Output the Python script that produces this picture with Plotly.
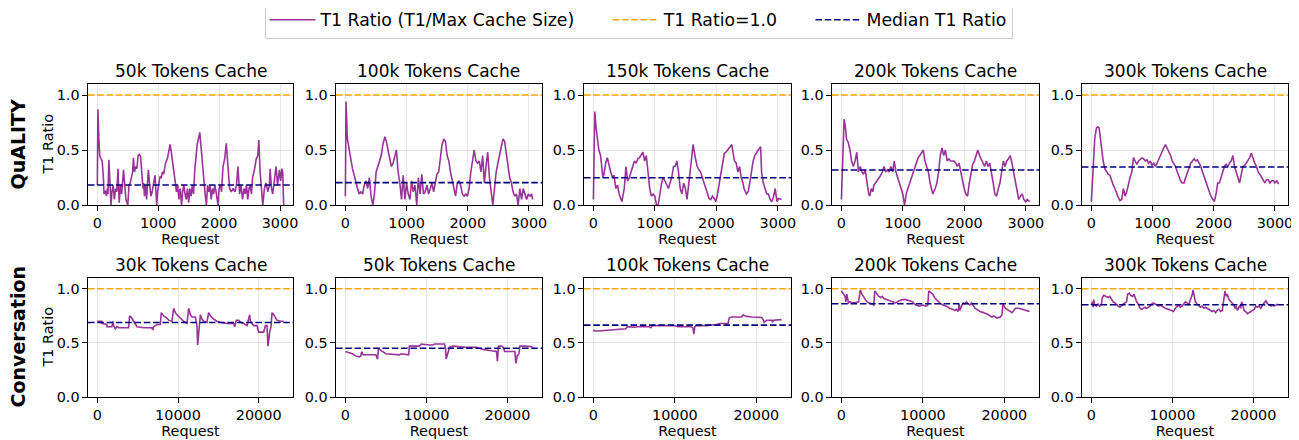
import plotly.graph_objects as go

FONT = "DejaVu Sans"

# ---------------- data ----------------
q50_x = [0, 10, 25, 40, 60, 80, 100, 110, 130, 150,
         165, 175, 190, 205, 215, 225, 240, 260, 280, 300,
         320, 340, 350, 360, 380, 400, 430, 450, 470, 500,
         520, 540, 560, 580, 593, 610, 630, 650, 670, 690,
         710, 730, 750, 760, 775, 790, 810, 825, 838, 860,
         880, 900, 920, 947, 960, 975, 990, 1010, 1030, 1050,
         1070, 1090, 1120, 1150, 1175, 1195, 1215, 1235, 1260, 1280,
         1300, 1320, 1340, 1360, 1383, 1400, 1420, 1440, 1460, 1480,
         1500, 1520, 1540, 1560, 1580, 1600, 1620, 1640, 1660, 1682,
         1700, 1720, 1748, 1770, 1791, 1810, 1830, 1850, 1870, 1890,
         1910, 1930, 1950, 1965, 1982, 2000, 2020, 2040, 2064, 2091,
         2118, 2145, 2173, 2200, 2230, 2260, 2285, 2309, 2336, 2360,
         2385, 2410, 2430, 2450, 2470, 2490, 2510, 2530, 2550, 2580,
         2610, 2635, 2652, 2673, 2690, 2717, 2744, 2770, 2800, 2826,
         2837, 2860, 2880, 2900, 2920, 2935, 2960, 2990, 3010, 3030,
         3044, 3060]
q50_y = [.18, .87, .60, .45, .42, .40, .25, .10, .13, .08,
         .15, .10, .41, .15, .08, .00, .12, .18, .05, .15,
         .12, .33, .15, .02, .18, .10, .32, .15, .05, .00,
         .18, .20, .26, .30, .43, .30, .35, .33, .45, .46,
         .44, .30, .15, .20, .08, .18, .05, .20, .32, .18,
         .08, .12, .20, .27, .15, .00, .12, .22, .26, .25,
         .30, .28, .38, .42, .50, .55, .48, .40, .28, .20,
         .12, .18, .05, .15, .00, .12, .18, .10, .05, .15,
         .02, .15, .08, .18, .10, .32, .45, .55, .60, .66,
         .55, .40, .20, .10, .00, .18, .12, .18, .05, .15,
         .10, .18, .12, .05, .00, .15, .18, .12, .35, .42,
         .56, .35, .15, .12, .15, .12, .18, .35, .10, .18,
         .05, .15, .10, .18, .05, .15, .18, .10, .25, .32,
         .42, .45, .59, .30, .15, .00, .15, .20, .12, .18,
         .33, .15, .10, .20, .30, .35, .18, .32, .22, .33,
         .30, .00]

q100_x = [0, 11, 33, 61, 88, 116, 144, 171, 199, 227,
          254, 282, 309, 337, 365, 392, 420, 448, 475, 503,
          530, 558, 586, 613, 646, 669, 696, 724, 751, 779,
          807, 834, 862, 890, 917, 945, 972, 1000, 1028, 1055,
          1083, 1110, 1138, 1166, 1193, 1221, 1249, 1276, 1304, 1332,
          1360, 1387, 1415, 1442, 1470, 1497, 1525, 1553, 1580, 1608,
          1635, 1663, 1691, 1718, 1746, 1774, 1801, 1829, 1856, 1884,
          1912, 1939, 1967, 1995, 2022, 2050, 2077, 2105, 2133, 2160,
          2188, 2216, 2243, 2271, 2298, 2326, 2354, 2381, 2409, 2437,
          2464, 2492, 2519, 2547, 2575, 2602, 2630, 2658, 2685, 2713,
          2740, 2768, 2796, 2823, 2851, 2879, 2906, 2934, 2961, 2989,
          3017, 3044, 3060]
q100_y = [.08, .94, .60, .50, .40, .33, .27, .20, .15, .10,
          .12, .10, .18, .22, .15, .25, .08, .00, .10, .30,
          .35, .40, .45, .55, .62, .58, .50, .40, .35, .38,
          .45, .50, .30, .20, .05, .27, .05, .20, .10, .05,
          .22, .12, .18, .00, .25, .10, .28, .10, .12, .18,
          .10, .15, .20, .12, .22, .28, .30, .45, .55, .60,
          .58, .45, .40, .30, .22, .15, .08, .20, .22, .18,
          .10, .08, .10, .08, .15, .30, .40, .50, .40, .38,
          .40, .30, .45, .20, .35, .48, .25, .10, .00, .15,
          .30, .38, .45, .55, .60, .58, .45, .35, .25, .20,
          .12, .08, .10, .00, .15, .05, .15, .10, .05, .10,
          .08, .10, .05]

q150_x = [0, 22, 44, 66, 88, 116, 132, 154, 171, 199,
          226, 254, 281, 309, 336, 364, 392, 419, 447, 463,
          502, 529, 557, 585, 612, 640, 667, 695, 722, 750,
          778, 805, 833, 860, 888, 915, 943, 971, 998, 1026,
          1053, 1081, 1109, 1136, 1164, 1191, 1219, 1246, 1274, 1302,
          1329, 1357, 1384, 1412, 1439, 1467, 1495, 1522, 1550, 1577,
          1605, 1621, 1660, 1688, 1715, 1743, 1770, 1798, 1825, 1853,
          1881, 1908, 1936, 1963, 1991, 2018, 2046, 2074, 2101, 2129,
          2156, 2184, 2211, 2250, 2278, 2294, 2322, 2349, 2377, 2404,
          2432, 2449, 2487, 2515, 2542, 2570, 2598, 2625, 2650, 2680,
          2719, 2735, 2763, 2791, 2818, 2846, 2873, 2901, 2930, 2956,
          2984, 3010, 3039, 3060]
q150_y = [.05, .85, .70, .60, .50, .45, .35, .25, .28, .38,
          .43, .35, .30, .25, .27, .15, .18, .10, .05, .03,
          .15, .35, .22, .25, .30, .35, .40, .38, .42, .43,
          .45, .48, .40, .45, .30, .15, .08, .10, .08, .00,
          .00, .10, .20, .25, .22, .18, .15, .20, .25, .35,
          .35, .40, .30, .15, .10, .20, .15, .05, .20, .30,
          .45, .55, .42, .35, .32, .30, .25, .20, .15, .10,
          .06, .05, .08, .06, .03, .10, .20, .30, .40, .47,
          .48, .50, .52, .55, .45, .40, .38, .30, .35, .25,
          .20, .15, .10, .12, .20, .30, .40, .45, .48, .50,
          .53, .30, .20, .15, .10, .10, .05, .03, .08, .15,
          .03, .06, .05, .05]

q200_x = [0, 44, 67, 83, 111, 139, 166, 194, 222, 250,
          277, 305, 333, 360, 388, 416, 444, 460, 488, 510,
          527, 555, 582, 610, 638, 665, 693, 721, 749, 776,
          804, 832, 859, 887, 915, 943, 970, 998, 1026, 1054,
          1081, 1109, 1137, 1164, 1192, 1220, 1248, 1275, 1303, 1331,
          1358, 1386, 1414, 1442, 1469, 1486, 1525, 1553, 1580, 1608,
          1636, 1664, 1691, 1719, 1747, 1774, 1802, 1830, 1858, 1885,
          1913, 1941, 1968, 1996, 2024, 2052, 2079, 2107, 2135, 2163,
          2190, 2218, 2246, 2273, 2301, 2329, 2357, 2384, 2412, 2440,
          2468, 2495, 2523, 2551, 2578, 2606, 2634, 2662, 2689, 2717,
          2745, 2773, 2800, 2828, 2856, 2883, 2911, 2939, 2967, 2994,
          3022, 3045, 3060]
q200_y = [.05, .78, .70, .60, .57, .50, .40, .35, .40, .48,
          .30, .35, .30, .28, .32, .20, .10, .08, .15, .12,
          .18, .20, .22, .25, .27, .30, .35, .30, .32, .30,
          .35, .30, .40, .30, .25, .20, .15, .10, .00, .10,
          .15, .20, .25, .30, .35, .38, .43, .45, .48, .50,
          .40, .35, .30, .20, .15, .10, .15, .20, .30, .45,
          .52, .45, .50, .40, .42, .40, .40, .40, .38, .35,
          .38, .30, .20, .15, .10, .08, .20, .30, .37, .40,
          .45, .50, .45, .42, .38, .35, .40, .35, .38, .30,
          .20, .10, .08, .15, .20, .30, .40, .35, .40, .42,
          .45, .38, .30, .20, .10, .05, .08, .10, .05, .03,
          .05, .04, .03]

q300_x = [0, 28, 55, 83, 100, 127, 138, 165, 193, 220,
          248, 275, 303, 330, 358, 385, 413, 440, 468, 495,
          523, 551, 578, 606, 633, 661, 688, 716, 743, 771,
          798, 826, 853, 881, 908, 936, 963, 991, 1018, 1046,
          1073, 1101, 1129, 1156, 1184, 1211, 1239, 1266, 1294, 1321,
          1349, 1376, 1404, 1431, 1459, 1486, 1514, 1541, 1569, 1596,
          1624, 1652, 1679, 1707, 1734, 1762, 1789, 1817, 1844, 1872,
          1899, 1927, 1954, 1982, 2009, 2037, 2064, 2092, 2119, 2147,
          2174, 2202, 2229, 2257, 2285, 2312, 2340, 2367, 2395, 2422,
          2450, 2477, 2505, 2532, 2560, 2587, 2615, 2642, 2670, 2697,
          2725, 2752, 2780, 2807, 2835, 2862, 2890, 2917, 2945, 2975,
          3000, 3030, 3060]
q300_y = [.03, .40, .60, .70, .71, .70, .65, .50, .40, .33,
          .30, .28, .27, .22, .18, .15, .10, .07, .04, .05,
          .15, .08, .12, .20, .25, .30, .43, .40, .37, .40,
          .42, .43, .42, .40, .41, .38, .40, .36, .38, .35,
          .38, .42, .45, .48, .52, .55, .52, .48, .45, .40,
          .38, .35, .30, .25, .22, .20, .20, .25, .30, .35,
          .38, .40, .42, .40, .41, .38, .35, .30, .25, .20,
          .15, .12, .08, .05, .03, .10, .20, .20, .25, .30,
          .35, .37, .35, .38, .40, .45, .35, .30, .25, .20,
          .28, .35, .36, .38, .40, .43, .47, .42, .38, .35,
          .30, .28, .25, .22, .20, .23, .23, .20, .22, .22,
          .20, .22, .19]

c30_x = [0, 570, 580, 1190, 1200, 1810, 1940, 2020, 2230, 2440,
         2640, 3880, 4000, 4300, 4500, 4710, 4920, 5740, 6770, 6860,
         6980, 7190, 7400, 7810, 7930, 8220, 8640, 8840, 9250, 9460,
         9670, 9880, 10290, 10500, 10700, 11110, 11320, 11530, 11740, 12150,
         12350, 12440, 12560, 12770, 12970, 13180, 13590, 13800, 14010, 14420,
         14830, 15250, 16070, 16900, 17020, 17230, 17520, 17730, 18140, 18550,
         18880, 18970, 19380, 19790, 20000, 20620, 20830, 21030, 21160, 21360,
         21530, 21650, 21860, 22070, 22270, 22690, 23100]
c30_y = [.70, .70, .68, .67, .65, .65, .70, .66, .63, .65,
         .64, .64, .75, .73, .70, .68, .65, .64, .64, .62,
         .65, .66, .67, .67, .78, .75, .73, .71, .70, .82,
         .78, .76, .73, .72, .70, .68, .82, .76, .74, .74,
         .66, .48, .60, .76, .72, .70, .69, .78, .75, .72,
         .70, .69, .68, .68, .65, .71, .71, .69, .68, .66,
         .76, .70, .66, .66, .60, .60, .66, .66, .47, .60,
         .65, .78, .76, .74, .71, .70, .70]

c50_x = [0, 455, 868, 1281, 1694, 1901, 2025, 2190, 2521, 3760,
         3967, 4091, 4380, 4793, 5000, 6653, 6859, 7809, 7892, 8305,
         9132, 9338, 9958, 10371, 10785, 10991, 12231, 12355, 12437, 12644,
         12768, 12851, 13264, 14090, 14917, 16156, 16569, 16983, 17809, 18429,
         18636, 18759, 18883, 19255, 19462, 19668, 20495, 20908, 21032, 21197,
         21404, 21528, 22148, 22561, 23100]
c50_y = [.42, .41, .40, .38, .37, .38, .42, .39, .39, .39,
         .35, .45, .43, .41, .40, .39, .40, .39, .47, .47,
         .47, .49, .48, .48, .48, .49, .49, .45, .35, .42,
         .44, .46, .47, .465, .46, .46, .45, .44, .43, .42,
         .42, .33, .47, .47, .46, .42, .42, .42, .31, .38,
         .40, .47, .47, .47, .465]

c100_x = [0, 165, 660, 1897, 2928, 3959, 4165, 4990, 5402, 6021,
          6846, 7052, 7258, 7671, 8083, 9320, 9939, 10351, 11176, 12001,
          12207, 12331, 12454, 12619, 13857, 14681, 15094, 15506, 15919, 16331,
          16537, 16661, 16950, 18187, 18393, 18599, 18805, 19424, 19630, 20043,
          20661, 20867, 20950, 21280, 21898, 21981, 22105, 23100]
c100_y = [.62, .61, .61, .615, .62, .63, .65, .645, .65, .65,
          .65, .64, .66, .66, .66, .66, .66, .65, .65, .65,
          .64, .58, .65, .66, .66, .665, .67, .68, .68, .68,
          .68, .73, .74, .74, .76, .75, .745, .74, .74, .74,
          .735, .71, .69, .71, .71, .69, .71, .715]

c200_x = [0, 248, 455, 538, 662, 869, 1076, 1283, 1697, 2111,
          2318, 2525, 2732, 2939, 3146, 3353, 3767, 3974, 4099, 4388,
          4595, 4802, 5009, 5216, 5630, 5837, 6251, 6665, 7079, 7493,
          7907, 8321, 8735, 8942, 9149, 9563, 9977, 10391, 10598, 10723,
          10888, 11219, 11426, 11633, 11840, 12047, 12254, 12461, 12875, 13289,
          13703, 13910, 14117, 14324, 14449, 14531, 14738, 14945, 15152, 15359,
          15566, 15773, 15980, 16187, 16394, 16601, 16808, 17015, 17429, 17843,
          18050, 18257, 18464, 18671, 18878, 19085, 19499, 19706, 19831, 19996,
          20120, 20327, 20534, 20741, 20948, 21155, 21362, 21776, 22190, 22604,
          23100]
c200_y = [.98, .95, .93, .88, .95, .87, .88, .87, .87, .88,
          .99, .95, .92, .90, .88, .87, .86, .85, .98, .95,
          .93, .92, .93, .91, .90, .89, .88, .87, .89, .90,
          .90, .89, .88, .86, .85, .84, .85, .84, .85, .98,
          .97, .95, .92, .90, .88, .87, .86, .85, .84, .82,
          .81, .80, .81, .79, .86, .80, .84, .87, .86, .88,
          .86, .85, .87, .84, .82, .81, .80, .79, .78, .77,
          .76, .75, .74, .75, .74, .73, .74, .76, .86, .84,
          .82, .81, .80, .79, .78, .80, .82, .82, .81, .80,
          .79]

c300_x = [0, 124, 207, 290, 414, 621, 828, 1035, 1242, 1366,
          1532, 1863, 2070, 2277, 2484, 2691, 2898, 3105, 3312, 3519,
          3726, 3933, 4140, 4347, 4471, 4678, 4844, 5092, 5258, 5382,
          5589, 5796, 6003, 6210, 6417, 6624, 6831, 7038, 7245, 7452,
          7659, 7866, 8073, 8280, 8487, 8694, 8901, 9108, 9522, 9936,
          10143, 10350, 10557, 10764, 10971, 11178, 11385, 11592, 11799, 12006,
          12213, 12420, 12544, 12710, 12834, 13041, 13248, 13455, 13662, 13869,
          14076, 14283, 14490, 14697, 14904, 15111, 15318, 15525, 15732, 15939,
          16146, 16353, 16477, 16643, 16767, 16974, 17181, 17388, 17595, 17719,
          17843, 18009, 18216, 18340, 18423, 18547, 18713, 18837, 19044, 19251,
          19458, 19665, 19872, 20079, 20286, 20493, 20700, 20907, 21114, 21321,
          21528, 21735, 21942, 22149, 22356, 22563, 22770, 22977]
c300_y = [.85, .88, .83, .90, .85, .84, .86, .84, .86, .92,
          .94, .93, .92, .93, .90, .88, .87, .85, .84, .83,
          .85, .86, .87, .88, .95, .96, .94, .93, .95, .92,
          .88, .86, .82, .81, .82, .83, .82, .83, .84, .86,
          .87, .86, .85, .84, .85, .84, .83, .82, .81, .80,
          .79, .82, .84, .85, .83, .84, .86, .88, .87, .85,
          .90, .94, .99, .93, .88, .86, .84, .83, .84, .82,
          .83, .82, .81, .80, .79, .80, .78, .80, .81, .79,
          .80, .91, .98, .93, .95, .90, .88, .87, .85, .82,
          .84, .80, .83, .85, .82, .88, .84, .80, .79, .77,
          .78, .79, .80, .81, .84, .83, .84, .82, .85, .87,
          .89, .86, .85, .84, .85, .84, .85, .86]

quality_titles = ["50k Tokens Cache", "100k Tokens Cache", "150k Tokens Cache",
                  "200k Tokens Cache", "300k Tokens Cache"]
conv_titles = ["30k Tokens Cache", "50k Tokens Cache", "100k Tokens Cache",
               "200k Tokens Cache", "300k Tokens Cache"]
quality_medians = [0.182, 0.203, 0.248, 0.318, 0.345]
conv_medians = [0.688, 0.450, 0.664, 0.862, 0.853]
row_labels = ["QuALITY", "Conversation"]
y_label = "T1 Ratio"
x_label = "Request"
quality_xticks = [0, 1000, 2000, 3000]
conv_xticks = [0, 10000, 20000]
y_ticks = [0.0, 0.5, 1.0]
y_ticktext = ["0.0", "0.5", "1.0"]
reference_ratio = 1.0
legend_names = ["T1 Ratio (T1/Max Cache Size)", "T1 Ratio=1.0", "Median T1 Ratio"]

# ---------------- layout geometry (screen pixels) ----------------
# the page body keeps an 8px margin, so the figure is sized to fill the rest of the window
OFF = 8
W, H = 1299 - OFF, 440 - OFF
col_px = [(88, 293), (336, 542), (584, 791), (832, 1039), (1082, 1288)]
row_px = [(84, 205), (278, 397)]


def fx(px):
    return (px - OFF) / W


def fy(py):
    return 1 - (py - OFF) / H


rows = [
    dict(series=[(q50_x, q50_y), (q100_x, q100_y), (q150_x, q150_y), (q200_x, q200_y), (q300_x, q300_y)],
         titles=quality_titles, medians=quality_medians, xticks=quality_xticks),
    dict(series=[(c30_x, c30_y), (c50_x, c50_y), (c100_x, c100_y), (c200_x, c200_y), (c300_x, c300_y)],
         titles=conv_titles, medians=conv_medians, xticks=conv_xticks),
]

PURPLE = "rgba(128,0,128,0.8)"
ORANGE = "#FFA500"
NAVY = "#000080"
LW = 1.6
DASH = "6.5px,2.8px"
GRID = "rgba(176,176,176,0.3)"
PAD = "\u00a0" * 5

fig = go.Figure()
annotations = []
layout_axes = {}

for r, row in enumerate(rows):
    xmin = min(min(xs) for xs, _ in row["series"])
    xmax = max(max(xs) for xs, _ in row["series"])
    pad = 0.05 * (xmax - xmin)
    xr = [xmin - pad, xmax + pad]
    top, bot = row_px[r]
    for c in range(5):
        k = r * 5 + c
        sfx = "" if k == 0 else str(k + 1)
        xs, ys = row["series"][c]
        fig.add_trace(go.Scatter(
            x=xs, y=ys, mode="lines", name=legend_names[0] + PAD, legendgroup="t1",
            showlegend=(k == 0), line=dict(color=PURPLE, width=LW),
            xaxis="x" + sfx, yaxis="y" + sfx))
        fig.add_trace(go.Scatter(
            x=xr, y=[reference_ratio, reference_ratio], mode="lines", name=legend_names[1] + PAD,
            legendgroup="one", showlegend=(k == 0),
            line=dict(color=ORANGE, width=LW, dash=DASH),
            xaxis="x" + sfx, yaxis="y" + sfx))
        med = row["medians"][c]
        fig.add_trace(go.Scatter(
            x=xr, y=[med, med], mode="lines", name=legend_names[2],
            legendgroup="med", showlegend=(k == 0),
            line=dict(color=NAVY, width=LW, dash=DASH),
            xaxis="x" + sfx, yaxis="y" + sfx))

        l, rr = col_px[c]
        common = dict(
            showline=True, linecolor="black", linewidth=1.1, mirror=True,
            ticks="outside", ticklen=4.5, tickwidth=1.1, tickcolor="black",
            tickfont=dict(family=FONT, size=14.4, color="black"),
            showgrid=True, gridcolor=GRID, gridwidth=1.1, zeroline=False,
            automargin=False,
        )
        layout_axes["xaxis" + sfx] = dict(
            common, domain=[fx(l), fx(rr)], anchor="y" + sfx, range=xr,
            tickvals=row["xticks"], ticktext=[str(v) for v in row["xticks"]],
            title=dict(text=x_label, font=dict(family=FONT, size=14.4, color="black"), standoff=1),
        )
        layout_axes["yaxis" + sfx] = dict(
            common, domain=[fy(bot), fy(top)], anchor="x" + sfx, range=[0, 1.1],
            tickvals=y_ticks, ticktext=y_ticktext,
        )

        annotations.append(dict(
            text=row["titles"][c], x=fx((l + rr) / 2), y=fy(top),
            xref="paper", yref="paper", xanchor="center", yanchor="bottom",
            yshift=1, showarrow=False, font=dict(family=FONT, size=17, color="black")))

    # y-axis label of the first column
    annotations.append(dict(
        text=y_label, x=fx(47), y=fy((top + bot) / 2),
        xref="paper", yref="paper", xanchor="center", yanchor="middle",
        textangle=-90, showarrow=False, font=dict(family=FONT, size=14.4, color="black")))
    # row label
    annotations.append(dict(
        text="<b>%s</b>" % row_labels[r], x=fx(17), y=fy((top + bot) / 2),
        xref="paper", yref="paper", xanchor="center", yanchor="middle",
        textangle=-90, showarrow=False, font=dict(family=FONT, size=19, color="black")))

fig.update_layout(
    width=W, height=H, template="none",
    margin=dict(l=0, r=0, t=0, b=0, autoexpand=False),
    paper_bgcolor="white", plot_bgcolor="white",
    font=dict(family=FONT, size=14.4, color="black"),
    showlegend=True,
    legend=dict(
        orientation="h", x=fx(638.5), xanchor="center", y=fy(1), yanchor="top",
        font=dict(family=FONT, size=17.3, color="black"), itemwidth=46,
        bordercolor="#cccccc", borderwidth=1, bgcolor="white",
    ),
    annotations=annotations,
    **layout_axes,
)

fig.write_html("out.html")
